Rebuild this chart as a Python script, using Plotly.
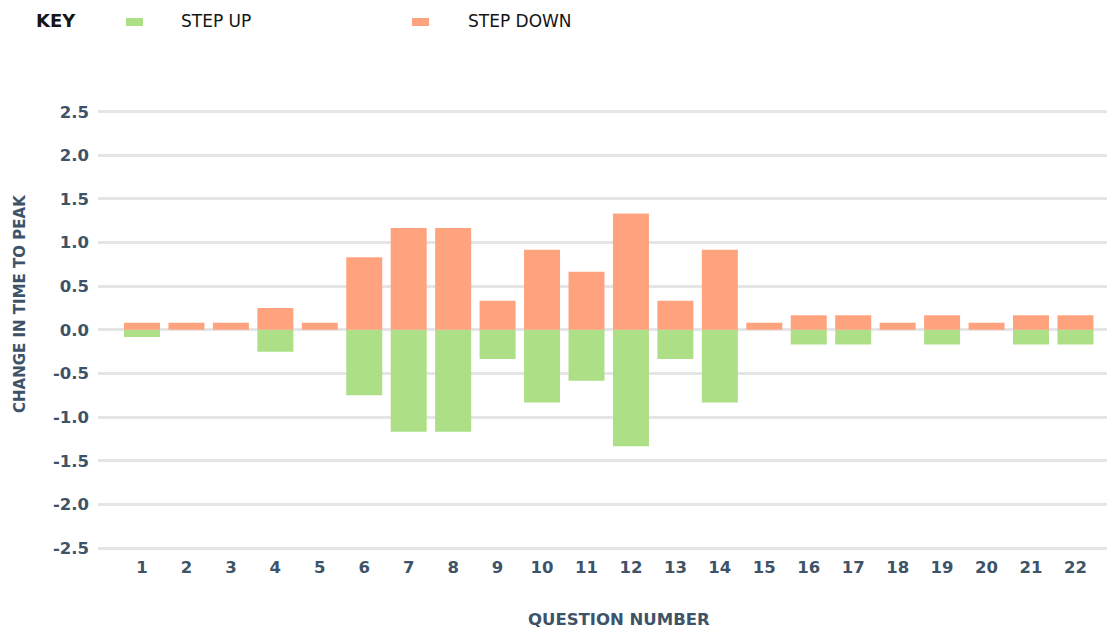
import plotly.graph_objects as go

questions = [str(i) for i in range(1, 23)]
step_up = [-0.083, 0, 0, -0.25, 0, -0.75, -1.167, -1.167, -0.333, -0.833, -0.583,
           -1.333, -0.333, -0.833, 0, -0.167, -0.167, 0, -0.167, 0, -0.167, -0.167]
step_down = [0.083, 0.083, 0.083, 0.25, 0.083, 0.833, 1.167, 1.167, 0.333, 0.917, 0.667,
             1.333, 0.333, 0.917, 0.083, 0.167, 0.167, 0.083, 0.167, 0.083, 0.167, 0.167]
y_ticks = [2.5, 2.0, 1.5, 1.0, 0.5, 0.0, -0.5, -1.0, -1.5, -2.0, -2.5]
y_tick_labels = [f"{v:.1f}" for v in y_ticks]
series_names = ["STEP UP", "STEP DOWN"]

GREEN = "#addf87"
ORANGE = "#ffa37f"
SLATE = "#3e5367"
INK = "#151515"
FONT = "DejaVu Sans"

# figure geometry (the page body adds an 8px margin around the figure)
W, H = 1099, 620
ML, MR, MT, MB = 90, 0, 95, 73
PW, PH = W - ML - MR, H - MT - MB


def px(x):
    return (x - ML) / PW


def py(y):
    return (H - MB - y) / PH


fig = go.Figure()
fig.add_trace(go.Bar(x=questions, y=step_up, name=series_names[0], showlegend=False,
                     marker=dict(color=GREEN, line=dict(width=0))))
fig.add_trace(go.Bar(x=questions, y=step_down, name=series_names[1], showlegend=False,
                     marker=dict(color=ORANGE, line=dict(width=0))))

annotations = [
    dict(text="<b>KEY</b>", x=px(26), y=py(12), xanchor="left", yanchor="middle",
         font=dict(family=FONT, size=18, color=INK)),
    dict(text=series_names[0], x=px(171), y=py(12.5), xanchor="left", yanchor="middle",
         font=dict(family=FONT, size=17, color=INK)),
    dict(text=series_names[1], x=px(458), y=py(12.5), xanchor="left", yanchor="middle",
         font=dict(family=FONT, size=17, color=INK)),
    dict(text="<b>QUESTION NUMBER</b>", x=px(610.5), y=py(611.5), xanchor="center", yanchor="middle",
         font=dict(family=FONT, size=16.5, color=SLATE)),
    dict(text="<b>CHANGE IN TIME TO PEAK</b>", x=px(12), y=py(296), xanchor="center", yanchor="middle",
         textangle=-90, font=dict(family=FONT, size=15, color=SLATE)),
]
for a in annotations:
    a.update(xref="paper", yref="paper", showarrow=False)

# legend swatches
shapes = [
    dict(type="rect", x0=px(118), x1=px(135), y0=py(10), y1=py(18), fillcolor=GREEN),
    dict(type="rect", x0=px(404), x1=px(421), y0=py(10), y1=py(18), fillcolor=ORANGE),
]
for s in shapes:
    s.update(xref="paper", yref="paper", line=dict(width=0), layer="above")

fig.update_layout(
    width=W, height=H, autosize=False,
    barmode="relative", bargap=0.19,
    plot_bgcolor="white", paper_bgcolor="white",
    margin=dict(l=ML, r=MR, t=MT, b=MB),
    font=dict(family=FONT, color=SLATE, size=16),
    showlegend=False,
    annotations=annotations,
    shapes=shapes,
    xaxis=dict(
        type="category", range=[-0.99, 21.71], automargin=False,
        showgrid=False, zeroline=False, showline=False, ticks="", ticklabelstandoff=0,
        tickfont=dict(family=FONT, size=16.5, color=SLATE, weight="bold"),
    ),
    yaxis=dict(
        range=[-2.58, 2.6], tickvals=y_ticks, ticktext=y_tick_labels, automargin=False,
        showgrid=True, gridcolor="#e5e5e5", gridwidth=2.5,
        zeroline=True, zerolinecolor="#e5e5e5", zerolinewidth=2.5,
        showline=False, ticks="", ticklabelstandoff=8,
        tickfont=dict(family=FONT, size=16.5, color=SLATE, weight="bold"),
    ),
)

fig.write_html("out.html")
